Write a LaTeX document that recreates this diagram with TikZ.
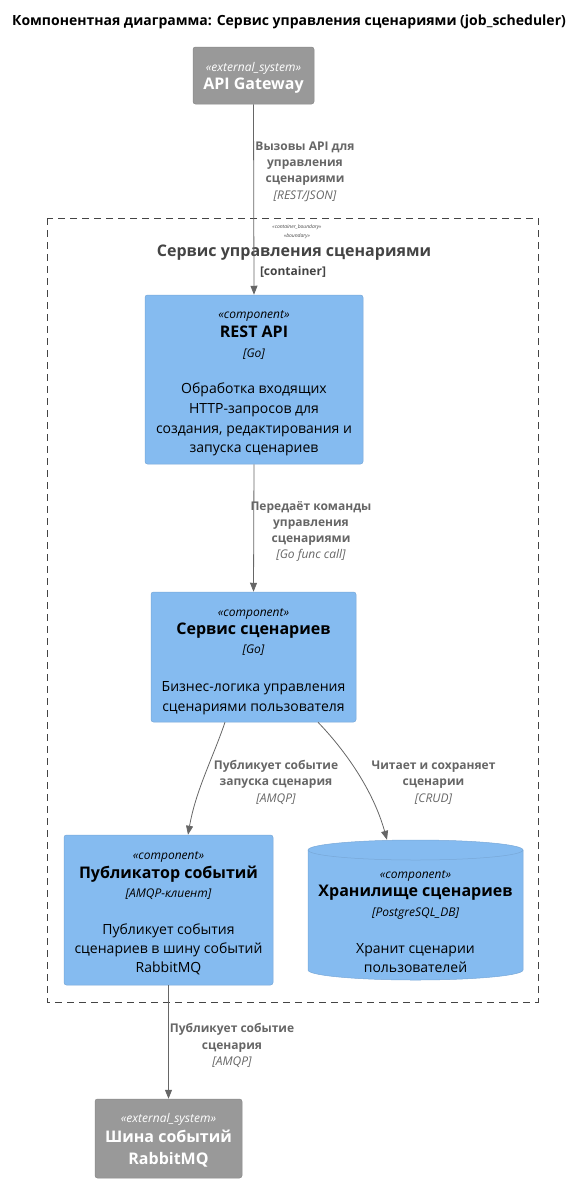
\documentclass[tikz,border=0pt]{standalone}
\usepackage{fontspec}
\setmainfont{Open Sans}
\usetikzlibrary{arrows.meta}
\definecolor{extgray}{HTML}{999999}
\definecolor{extborder}{HTML}{8A8A8A}
\definecolor{comp}{HTML}{85BBF0}
\definecolor{compborder}{HTML}{78A8D8}
\definecolor{relgray}{HTML}{666666}
\definecolor{bndgray}{HTML}{444444}
\tikzset{
  extbox/.style={draw=extborder,fill=extgray,rounded corners=2.5pt,line width=0.5pt,inner sep=0pt},
  compbox/.style={draw=compborder,fill=comp,rounded corners=2.5pt,line width=0.5pt,inner sep=0pt},
  txt/.style={inner sep=0pt,anchor=center,text height=0.72em,text depth=0.2em,yshift=-3pt},
  stereo/.style={txt,font=\fontsize{12}{14}\selectfont\itshape},
  ctitle/.style={txt,font=\fontsize{16}{19}\selectfont\bfseries},
  tech/.style={txt,font=\fontsize{12}{14}\selectfont\itshape},
  descr/.style={txt,font=\fontsize{14}{17}\selectfont},
  rlab/.style={txt,font=\fontsize{12}{14}\selectfont\bfseries,text=relgray},
  rtech/.style={txt,font=\fontsize{12}{14}\selectfont\itshape,text=relgray},
  rel/.style={draw=relgray,line width=0.8pt,-{Triangle[length=9pt,width=7pt]}},
}
\begin{document}
\begin{tikzpicture}[x=1pt,y=-1pt]
\useasboundingbox (0,0) rectangle (578,1183);
% title
\node[txt,font=\fontsize{14}{17}\selectfont\bfseries] (title) at (289,20) {Компонентная диаграмма: Сервис управления сценариями (job\_scheduler)};
% boundary
\draw[bndgray,line width=0.8pt,dash pattern=on 7pt off 5pt] (47,218) rectangle (538,1002);
\node[txt,font=\fontsize{5}{6}\selectfont\itshape,text=bndgray,yshift=1.5pt] (bst1) at (297,224) {«container\_boundary»};
\node[txt,font=\fontsize{5}{6}\selectfont\itshape,text=bndgray,yshift=1.5pt] (bst2) at (297,233) {«boundary»};
\node[txt,font=\fontsize{16}{19}\selectfont\bfseries,text=bndgray] (btitle) at (294,251) {Сервис управления сценариями};
\node[txt,font=\fontsize{12}{14}\selectfont\bfseries,text=bndgray] (btype) at (293,270) {[container]};
% API Gateway
\node[extbox,minimum width=121pt,minimum height=57pt] (api) at (253.5,75.5) {};
\node[stereo,text=white] (apis) at (253.5,66) {«external\_system»};
\node[ctitle,text=white] (apit) at (253.5,84) {API Gateway};
% REST API
\node[compbox,minimum width=218pt,minimum height=169pt] (rest) at (254,379.5) {};
\node[stereo] (rests) at (254,313) {«component»};
\node[ctitle] (restt) at (254,332) {REST API};
\node[tech] (restg) at (254,352) {[Go]};
\node[descr] (restd1) at (254,388) {Обработка входящих};
\node[descr] (restd2) at (254,408) {HTTP-запросов для};
\node[descr] (restd3) at (254,428) {создания, редактирования и};
\node[descr] (restd4) at (254,447) {запуска сценариев};
% Service
\node[compbox,minimum width=205pt,minimum height=130pt] (svc) at (253.5,657) {};
\node[stereo] (svcs) at (253.5,611) {«component»};
\node[ctitle] (svct) at (253.5,629) {Сервис сценариев};
\node[tech] (svcg) at (253.5,648) {[Go]};
\node[descr] (svcd1) at (253.5,686) {Бизнес-логика управления};
\node[descr] (svcd2) at (253.5,706) {сценариями пользователя};
% Publisher
\node[compbox,minimum width=209pt,minimum height=150pt] (pub) at (168.5,910) {};
\node[stereo] (pubs) at (168.5,854) {«component»};
\node[ctitle] (pubt) at (168.5,873) {Публикатор событий};
\node[tech] (pubg) at (168.5,892) {[AMQP-клиент]};
\node[descr] (pubd1) at (168.5,929) {Публикует события};
\node[descr] (pubd2) at (168.5,948) {сценариев в шину событий};
\node[descr] (pubd3) at (168.5,967) {RabbitMQ};
% Storage cylinder
\node[inner sep=0pt,minimum width=215pt,minimum height=140pt] (store) at (415.5,910) {};
\draw[compborder,fill=comp,line width=0.5pt]
  (308,850) -- (308,970) arc[start angle=180,end angle=360,x radius=107.5pt,y radius=10pt]
  -- (523,850) arc[start angle=0,end angle=180,x radius=107.5pt,y radius=10pt] -- cycle;
\draw[compborder,line width=0.5pt] (308,850) arc[start angle=180,end angle=360,x radius=107.5pt,y radius=10pt];
\node[stereo] (stos) at (415.5,873) {«component»};
\node[ctitle] (stot) at (415.5,891) {Хранилище сценариев};
\node[tech] (stog) at (415.5,911) {[PostgreSQL\_DB]};
\node[descr] (stod1) at (415.5,948) {Хранит сценарии};
\node[descr] (stod2) at (415.5,967) {пользователей};
% RabbitMQ
\node[extbox,minimum width=147pt,minimum height=79pt] (rmq) at (168.5,1138.5) {};
\node[stereo,text=white] (rmqs) at (168.5,1117) {«external\_system»};
\node[ctitle,text=white] (rmqt1) at (168.5,1137) {Шина событий};
\node[ctitle,text=white] (rmqt2) at (168.5,1159) {RabbitMQ};
% connector end points
\coordinate (s1) at ([xshift=-28.5pt]svc.south);
\coordinate (s2) at ([xshift=64.5pt]svc.south);
\coordinate (p1) at ([xshift=19.5pt]pub.north);
\coordinate (t1) at ([xshift=-28.5pt]store.north);
% relations
\draw[rel] (api.south) -- (rest.north);
\node[rlab] (l1a) at (305,145) {Вызовы API для};
\node[rlab] (l1b) at (305,161) {управления};
\node[rlab] (l1c) at (305,177) {сценариями};
\node[rtech] (l1d) at (305,194) {[REST/JSON]};
\draw[rel] (rest.south) -- (svc.north);
\node[rlab] (l2a) at (311,505) {Передаёт команды};
\node[rlab] (l2b) at (311,521) {управления};
\node[rlab] (l2c) at (311,537) {сценариями};
\node[rtech] (l2d) at (311,553) {[Go func call]};
\draw[rel] (s1) .. controls ([xshift=-13pt,yshift=-38pt]s1) and ([xshift=8pt,yshift=45pt]p1) .. (p1);
\node[rlab] (l3a) at (276,764) {Публикует событие};
\node[rlab] (l3b) at (276,780) {запуска сценария};
\node[rtech] (l3c) at (276,797) {[AMQP]};
\draw[rel] (s2) .. controls ([xshift=27pt,yshift=-28pt]s2) and ([xshift=-14pt,yshift=50pt]t1) .. (t1);
\node[rlab] (l4a) at (433.5,764) {Читает и сохраняет};
\node[rlab] (l4b) at (433.5,780) {сценарии};
\node[rtech] (l4c) at (433.5,797) {[CRUD]};
\draw[rel] (pub.south) -- (rmq.north);
\node[rlab] (l5a) at (232,1027) {Публикует событие};
\node[rlab] (l5b) at (232,1044) {сценария};
\node[rtech] (l5c) at (232,1060) {[AMQP]};
\end{tikzpicture}
\end{document}
